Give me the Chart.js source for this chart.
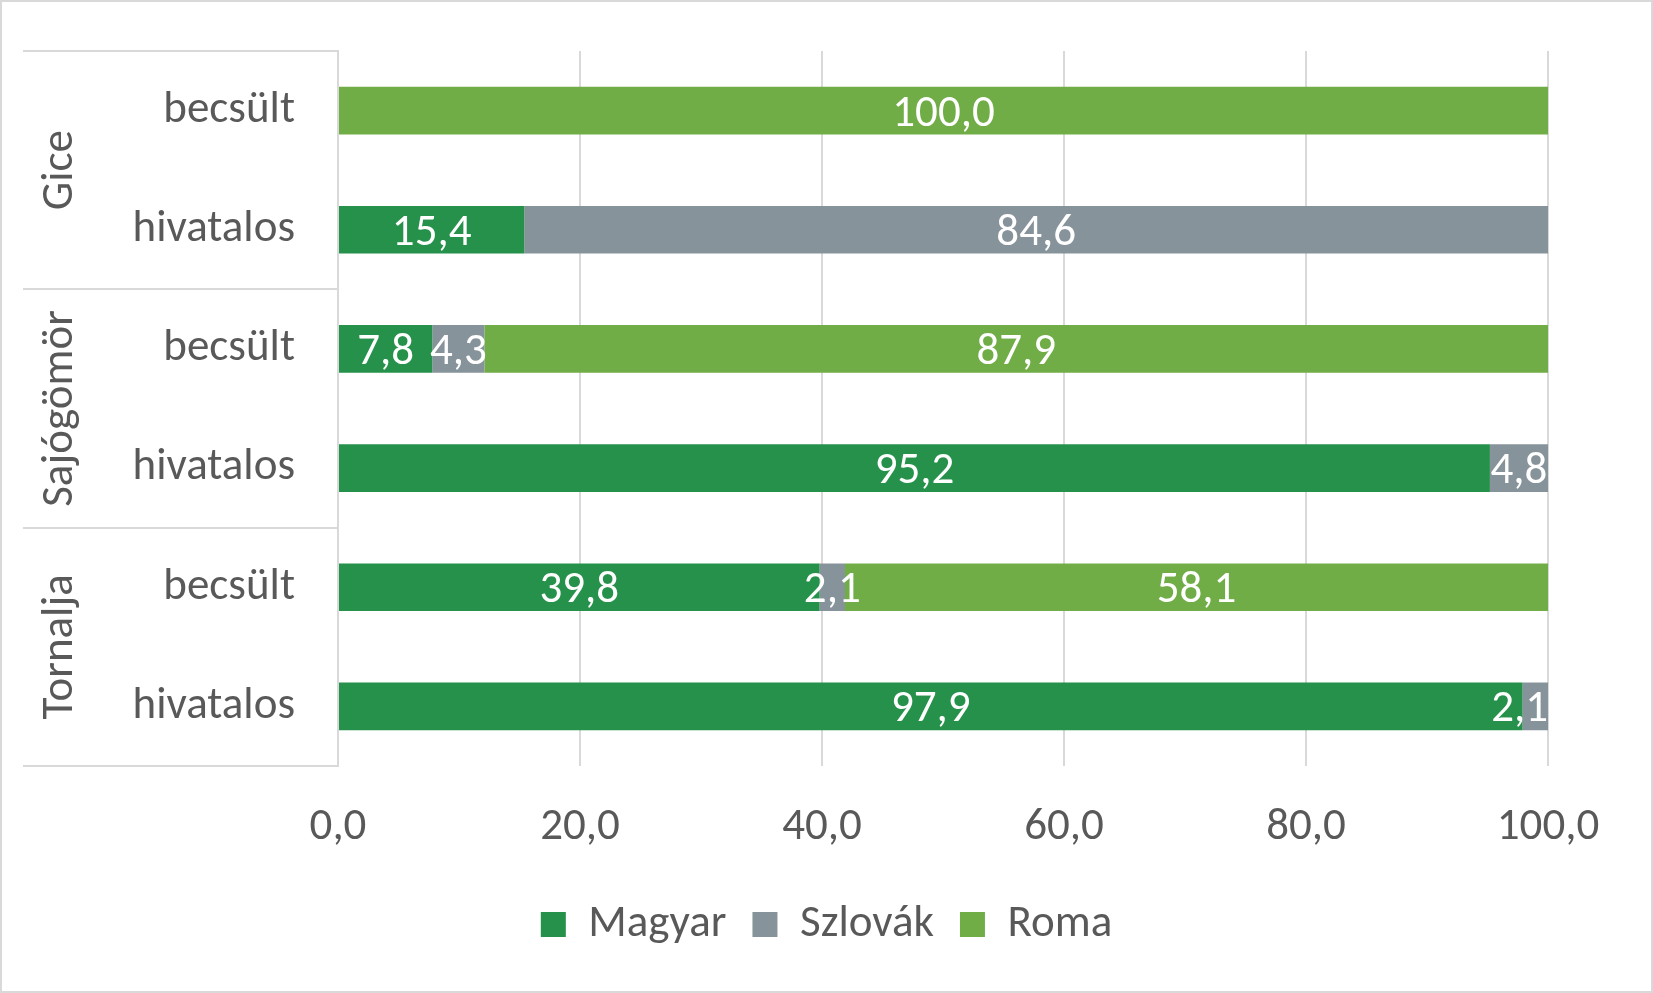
<!DOCTYPE html>
<html>
<head>
<meta charset="utf-8">
<script src="https://cdn.jsdelivr.net/npm/chart.js@4"></script>
<style>
  html, body { margin: 0; padding: 0; background: #fff; }
  canvas { display: block; }
</style>
</head>
<body>
<canvas id="chart" width="1653" height="993"></canvas>
<script>
// DATA
const categories = ["becsült", "hivatalos", "becsült", "hivatalos", "becsült", "hivatalos"];
const groups = ["Gice", "Sajógömör", "Tornalja"];
const magyar = [null, 15.4, 7.8, 95.2, 39.8, 97.9];
const szlovak = [null, 84.6, 4.3, 4.8, 2.1, 2.1];
const roma = [100.0, null, 87.9, null, 58.1, null];
const xTicks = [0, 20, 40, 60, 80, 100];

const FONT = "Carlito, Lato, sans-serif";
const SIZE = 45;
const TEXT = "#595959";
const LINE = "#D9D9D9";

function fmt(v) {
  return v.toFixed(1).replace(".", ",");
}

// white value labels in the middle of each segment, kept inside the plot
const valueLabels = {
  id: "valueLabels",
  afterDatasetsDraw(chart) {
    const ctx = chart.ctx;
    const right = chart.chartArea.right;
    ctx.save();
    ctx.font = SIZE + "px " + FONT;
    ctx.fillStyle = "#fff";
    ctx.textAlign = "center";
    ctx.textBaseline = "alphabetic";
    chart.data.datasets.forEach((ds, i) => {
      chart.getDatasetMeta(i).data.forEach((bar, j) => {
        const v = ds.data[j];
        if (v == null) return;
        const txt = fmt(v);
        const w = ctx.measureText(txt).width;
        let x = (bar.x + bar.base) / 2;
        if (x + w / 2 > right) x = right - w / 2;
        ctx.fillText(txt, x, bar.y + 15);
      });
    });
    ctx.restore();
  }
};

// group labels + separator lines on the category axis, and chart border
const groupAxis = {
  id: "groupAxis",
  beforeDraw(chart) {
    const ctx = chart.ctx;
    ctx.save();
    ctx.fillStyle = "#fff";
    ctx.fillRect(0, 0, chart.width, chart.height);
    ctx.strokeStyle = LINE;
    ctx.lineWidth = 2;
    ctx.strokeRect(1, 1, chart.width - 2, chart.height - 2);
    ctx.restore();
  },
  afterDraw(chart) {
    const ctx = chart.ctx;
    const y = chart.scales.y;
    const right = chart.chartArea.left;
    const per = categories.length / groups.length;
    ctx.save();
    ctx.strokeStyle = LINE;
    ctx.lineWidth = 2;
    for (let g = 0; g <= groups.length; g++) {
      const py = Math.round(y.getPixelForValue(g * per - 0.5));
      ctx.beginPath();
      ctx.moveTo(23, py);
      ctx.lineTo(right, py);
      ctx.stroke();
    }
    ctx.font = SIZE + "px " + FONT;
    ctx.fillStyle = TEXT;
    ctx.textAlign = "center";
    ctx.textBaseline = "alphabetic";
    groups.forEach((name, g) => {
      const top = y.getPixelForValue(g * per - 0.5);
      const bot = y.getPixelForValue(g * per + per - 0.5);
      ctx.save();
      ctx.translate(72, (top + bot) / 2);
      ctx.rotate(-Math.PI / 2);
      ctx.fillText(name, 0, 0);
      ctx.restore();
    });
    ctx.restore();
  }
};

new Chart(document.getElementById("chart"), {
  type: "bar",
  data: {
    labels: categories,
    datasets: [
      { label: "Magyar", data: magyar, backgroundColor: "#25914A" },
      { label: "Szlovák", data: szlovak, backgroundColor: "#87939A" },
      { label: "Roma", data: roma, backgroundColor: "#70AD47" }
    ]
  },
  options: {
    indexAxis: "y",
    responsive: false,
    devicePixelRatio: 1,
    animation: false,
    categoryPercentage: 1,
    barPercentage: 0.4,
    layout: { padding: { top: 51, right: 0, bottom: 36, left: 0 } },
    scales: {
      x: {
        stacked: true,
        min: 0,
        max: 100,
        afterBuildTicks: s => { s.ticks = xTicks.map(v => ({ value: v })); },
        afterFit: s => {
          s.height = 110;
          s.paddingLeft = 0;
          s.paddingRight = 105;
        },
        ticks: {
          padding: 35,
          color: TEXT,
          font: { family: FONT, size: SIZE },
          callback: v => fmt(v)
        },
        grid: { color: LINE, lineWidth: 2, drawTicks: false },
        border: { display: false }
      },
      y: {
        stacked: true,
        afterFit: s => {
          s.width = 338;
          s.paddingTop = 0;
          s.paddingBottom = 0;
        },
        ticks: {
          padding: 43,
          color: TEXT,
          font: { family: FONT, size: SIZE }
        },
        grid: { display: false, drawTicks: false },
        border: { display: true, color: LINE, width: 2 }
      }
    },
    plugins: {
      legend: {
        position: "bottom",
        labels: {
          color: TEXT,
          font: { family: FONT, size: SIZE },
          boxWidth: 25,
          boxHeight: 25,
          padding: 26
        }
      },
      tooltip: { enabled: false }
    }
  },
  plugins: [valueLabels, groupAxis]
});
</script>
</body>
</html>
